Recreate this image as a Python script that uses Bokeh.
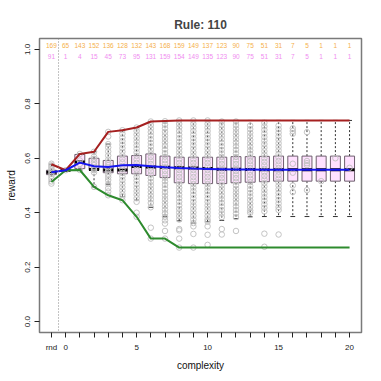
from bokeh.plotting import figure
from bokeh.models import Range1d, FixedTicker, Span, ColumnDataSource, PrintfTickFormatter
from bokeh.embed import file_html
from bokeh.resources import INLINE
from bokeh.core.properties import value

complexity = list(range(-1, 21))
tick_labels = {-1: "rnd", 0: "0", 5: "5", 10: "10", 15: "15", 20: "20"}
y_ticks = [0.0, 0.2, 0.4, 0.6, 0.8, 1.0]

count_top = [169, 65, 143, 152, 136, 128, 132, 143, 168, 159, 149, 137, 123, 90, 75, 51, 31, 7, 5, 1, 1, 1]
count_bot = [91, 1, 4, 15, 45, 73, 95, 131, 159, 154, 149, 135, 123, 90, 75, 51, 31, 7, 5, 1, 1, 1]

q1 = [0.540, 0.556, 0.562, 0.556, 0.547, 0.543, 0.543, 0.537, 0.529, 0.510, 0.507, 0.507, 0.507, 0.510,
      0.512, 0.514, 0.516, 0.516, 0.516, 0.516, 0.516, 0.516]
med = [0.549, 0.556, 0.586, 0.559, 0.557, 0.557, 0.570, 0.568, 0.567, 0.565, 0.564, 0.562, 0.560, 0.560,
       0.559, 0.558, 0.558, 0.558, 0.558, 0.558, 0.558, 0.558]
q3 = [0.556, 0.556, 0.614, 0.600, 0.592, 0.608, 0.610, 0.616, 0.608, 0.604, 0.604, 0.604, 0.604, 0.606,
      0.606, 0.607, 0.608, 0.608, 0.608, 0.608, 0.608, 0.608]
whisk_lo = [0.515, 0.556, 0.557, 0.495, 0.505, 0.459, 0.447, 0.420, 0.385, 0.370, 0.362, 0.367, 0.372,
            0.378, 0.385, 0.386, 0.386, 0.386, 0.386, 0.386, 0.386, 0.386]
whisk_hi = [0.578, 0.556, 0.616, 0.624, 0.652, 0.703, 0.713, 0.735, 0.736, 0.739, 0.739, 0.739, 0.739,
            0.739, 0.739, 0.739, 0.739, 0.739, 0.739, 0.739, 0.739, 0.739]

mean_reward = [0.549, 0.556, 0.584, 0.571, 0.568, 0.574, 0.575, 0.571, 0.567, 0.564, 0.562, 0.561, 0.560,
               0.559, 0.559, 0.558, 0.558, 0.558, 0.558, 0.558, 0.558, 0.558]
max_reward = [0.578, 0.556, 0.616, 0.624, 0.697, 0.703, 0.713, 0.735, 0.737, 0.739, 0.739, 0.739, 0.739,
              0.739, 0.739, 0.739, 0.739, 0.739, 0.739, 0.739, 0.739, 0.739]
min_reward = [0.513, 0.556, 0.557, 0.495, 0.464, 0.446, 0.385, 0.305, 0.305, 0.272, 0.272, 0.272, 0.272,
              0.272, 0.272, 0.272, 0.272, 0.272, 0.272, 0.272, 0.272, 0.272]

# individual observations (grey circles), one list per complexity value
points = [
    [0.507, 0.515, 0.525, 0.535, 0.545, 0.553, 0.560, 0.567, 0.574, 0.580],
    [0.556],
    [0.557, 0.579, 0.592, 0.616],
    [0.495, 0.548, 0.556, 0.560, 0.566, 0.575, 0.585, 0.598, 0.606, 0.624],
    [0.464, 0.478, 0.490, 0.505, 0.520, 0.530, 0.540, 0.550, 0.558, 0.566, 0.575, 0.585, 0.595, 0.610,
     0.625, 0.640, 0.652, 0.680, 0.697],
    [0.703, 0.690, 0.676, 0.663, 0.650, 0.637, 0.624, 0.611, 0.598, 0.585, 0.572, 0.559, 0.546, 0.533,
     0.520, 0.507, 0.494, 0.481, 0.468, 0.459, 0.446],
    [0.713, 0.700, 0.687, 0.674, 0.661, 0.648, 0.635, 0.622, 0.609, 0.596, 0.583, 0.570, 0.557, 0.544,
     0.531, 0.518, 0.505, 0.492, 0.479, 0.466, 0.453, 0.440, 0.400, 0.385],
    [0.735, 0.722, 0.709, 0.696, 0.683, 0.670, 0.657, 0.644, 0.631, 0.618, 0.605, 0.592, 0.579, 0.566,
     0.553, 0.540, 0.527, 0.514, 0.501, 0.488, 0.475, 0.462, 0.449, 0.436, 0.420, 0.345, 0.305],
    [0.736, 0.723, 0.710, 0.697, 0.684, 0.671, 0.658, 0.645, 0.632, 0.619, 0.606, 0.593, 0.580, 0.567,
     0.554, 0.541, 0.528, 0.515, 0.502, 0.489, 0.476, 0.463, 0.450, 0.437, 0.424, 0.411, 0.398, 0.385,
     0.372, 0.360, 0.333, 0.305],
    [0.739, 0.726, 0.713, 0.700, 0.687, 0.674, 0.661, 0.648, 0.635, 0.622, 0.609, 0.596, 0.583, 0.570,
     0.557, 0.544, 0.531, 0.518, 0.505, 0.492, 0.479, 0.466, 0.453, 0.440, 0.427, 0.414, 0.401, 0.388,
     0.375, 0.340, 0.335, 0.305, 0.272],
    [0.739, 0.726, 0.713, 0.700, 0.687, 0.674, 0.661, 0.648, 0.635, 0.622, 0.609, 0.596, 0.583, 0.570,
     0.557, 0.544, 0.531, 0.518, 0.505, 0.492, 0.479, 0.466, 0.453, 0.440, 0.427, 0.414, 0.401, 0.388,
     0.375, 0.362, 0.350, 0.322, 0.272],
    [0.739, 0.726, 0.713, 0.700, 0.687, 0.674, 0.661, 0.648, 0.635, 0.622, 0.609, 0.596, 0.583, 0.570,
     0.557, 0.544, 0.531, 0.518, 0.505, 0.492, 0.479, 0.466, 0.453, 0.440, 0.427, 0.414, 0.401, 0.388,
     0.375, 0.367, 0.350, 0.319, 0.282],
    [0.735, 0.722, 0.709, 0.696, 0.683, 0.670, 0.657, 0.644, 0.631, 0.618, 0.605, 0.592, 0.579, 0.566,
     0.553, 0.540, 0.527, 0.514, 0.501, 0.488, 0.475, 0.462, 0.449, 0.436, 0.423, 0.410, 0.397, 0.384,
     0.340, 0.320],
    [0.735, 0.722, 0.709, 0.696, 0.683, 0.670, 0.657, 0.644, 0.631, 0.618, 0.605, 0.592, 0.579, 0.566,
     0.553, 0.540, 0.527, 0.514, 0.501, 0.488, 0.475, 0.462, 0.449, 0.436, 0.423, 0.410, 0.397, 0.384,
     0.333],
    [0.720, 0.707, 0.694, 0.681, 0.668, 0.655, 0.642, 0.629, 0.616, 0.603, 0.590, 0.577, 0.564, 0.551,
     0.538, 0.525, 0.512, 0.499, 0.486, 0.473, 0.460, 0.447, 0.434, 0.421, 0.408, 0.400],
    [0.730, 0.717, 0.704, 0.691, 0.678, 0.665, 0.652, 0.639, 0.626, 0.613, 0.600, 0.587, 0.574, 0.561,
     0.548, 0.535, 0.522, 0.509, 0.496, 0.483, 0.470, 0.457, 0.444, 0.431, 0.418, 0.405, 0.323, 0.275],
    [0.720, 0.707, 0.694, 0.681, 0.668, 0.655, 0.642, 0.629, 0.616, 0.603, 0.590, 0.577, 0.564, 0.551,
     0.538, 0.525, 0.512, 0.499, 0.486, 0.473, 0.460, 0.447, 0.434, 0.421, 0.410, 0.320],
    [0.710, 0.700, 0.690, 0.580, 0.547, 0.500, 0.476],
    [0.696, 0.590, 0.582, 0.575, 0.483],
    [0.516],
    [0.600],
    [0.565],
]

FONT = "Liberation Sans"

p = figure(width=381, height=381, output_backend="svg", toolbar_location=None,
           x_range=Range1d(-1.84, 20.84), y_range=Range1d(-0.04, 1.04),
           min_border_left=39, min_border_right=20, min_border_top=38, min_border_bottom=49)
p.title.text = "Rule: 110"
p.title.align = "center"
p.title.text_font = FONT
p.title.text_font_size = "12px"
p.title.text_font_style = "bold"
p.title.standoff = 14
p.grid.visible = False
p.background_fill_color = "white"
p.border_fill_color = "white"
p.outline_line_color = "#7a7a7a"
p.outline_line_width = 1.5

for ax in (p.xaxis[0], p.yaxis[0]):
    ax.axis_line_color = None
    ax.major_tick_in = 0
    ax.major_tick_out = 5
    ax.minor_tick_line_color = None
    ax.major_tick_line_color = "#222222"
    ax.major_label_text_font = FONT
    ax.major_label_text_font_size = "8px"
    ax.major_label_text_color = "#222222"
    ax.axis_label_text_font = FONT
    ax.axis_label_text_font_size = "10px"
    ax.axis_label_text_font_style = "normal"
    ax.axis_label_text_color = "#111111"

p.xaxis.ticker = FixedTicker(ticks=complexity)
p.xaxis.major_label_overrides = {c: tick_labels.get(c, "") for c in complexity}
p.xaxis.axis_label = "complexity"
p.xaxis.major_label_standoff = 5
p.xaxis.axis_label_standoff = 5
p.yaxis.ticker = FixedTicker(ticks=y_ticks)
p.yaxis.formatter = PrintfTickFormatter(format="%.1f")
p.yaxis.major_label_orientation = "vertical"
p.yaxis.axis_label = "reward"
p.yaxis.major_label_standoff = 4
p.yaxis.axis_label_standoff = 6

p.add_layout(Span(location=-0.5, dimension="height", line_color="#888888",
                  line_dash="1 2", line_width=1))

src = ColumnDataSource(dict(x=complexity, q1=q1, med=med, q3=q3, lo=whisk_lo, hi=whisk_hi,
                            xl=[c - 0.35 for c in complexity], xr=[c + 0.35 for c in complexity],
                            cl=[c - 0.17 for c in complexity], cr=[c + 0.17 for c in complexity]))

# whiskers
p.segment(x0="x", y0="q3", x1="x", y1="hi", source=src, line_color="#333333", line_dash="2 2", line_width=1)
p.segment(x0="x", y0="q1", x1="x", y1="lo", source=src, line_color="#333333", line_dash="2 2", line_width=1)
p.segment(x0="cl", y0="hi", x1="cr", y1="hi", source=src, line_color="#333333", line_width=1)
p.segment(x0="cl", y0="lo", x1="cr", y1="lo", source=src, line_color="#333333", line_width=1)
# boxes
p.vbar(x="x", width=0.7, top="q3", bottom="q1", source=src, fill_color="#FFE1FF",
       line_color="#6e5f6e", line_width=1)
p.segment(x0="xl", y0="med", x1="xr", y1="med", source=src, line_color="black", line_width=3)

# observations
px, py = [], []
for c, vals in zip(complexity, points):
    for v in vals:
        px.append(c)
        py.append(v)
p.scatter(px, py, size=5.5, marker="circle", fill_color=None, line_color="#C4C4C4", line_width=1)

p.line(complexity, max_reward, line_color="#A52020", line_width=2)
p.line(complexity, min_reward, line_color="#2E8B2E", line_width=2)
p.line(complexity, mean_reward, line_color="#1515F0", line_width=2)

p.text(x=complexity, y=[1.015] * len(complexity), text=[str(c) for c in count_top],
       text_font=value(FONT), text_font_size="6.5px", text_color="#F5B04A",
       text_align="center", text_baseline="middle")
p.text(x=complexity, y=[0.975] * len(complexity), text=[str(c) for c in count_bot],
       text_font=value(FONT), text_font_size="6.5px", text_color="#F08CF0",
       text_align="center", text_baseline="middle")

open("out.html", "w").write(file_html(p, INLINE))
